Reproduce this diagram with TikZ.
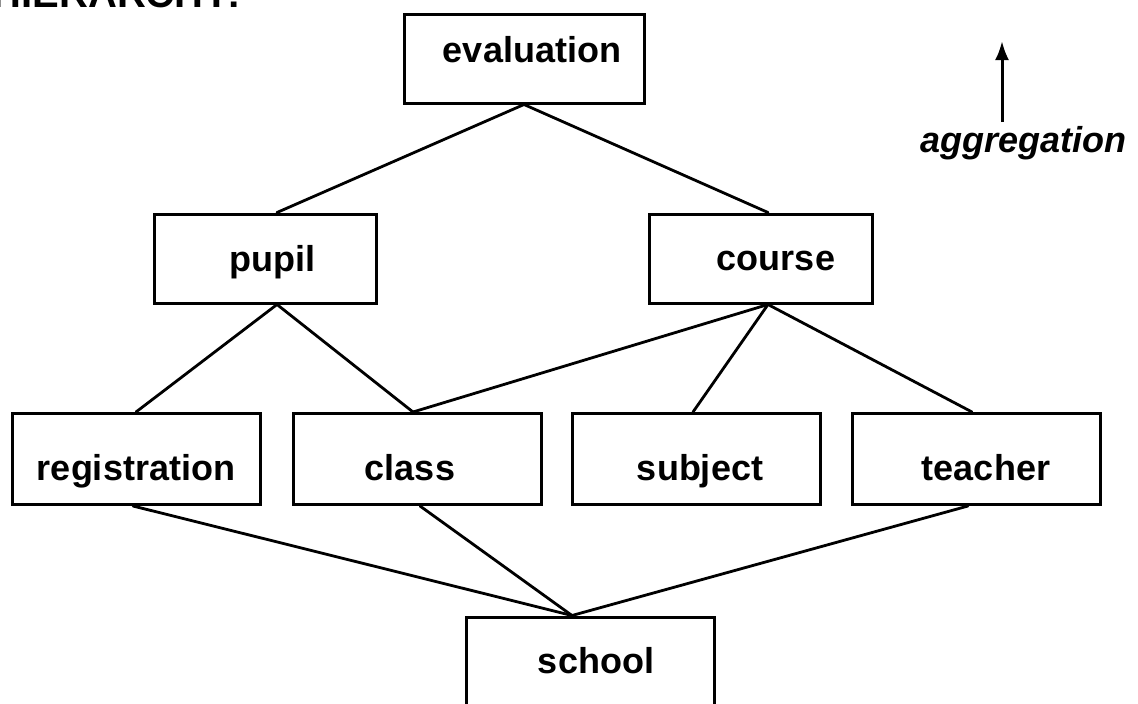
\documentclass[tikz,border=0pt]{standalone}
\usepackage{fontspec}
\setmainfont{Liberation Sans}
\usetikzlibrary{arrows.meta}
\begin{document}
\begin{tikzpicture}[x=1pt,y=-1pt,
  box/.style={draw,line width=3pt,rectangle,inner sep=0pt,minimum width=#1,minimum height=89pt},
  box/.default=248pt,
  lbl/.style={anchor=base,inner sep=0pt,font=\bfseries\fontsize{36}{40}\selectfont},
  link/.style={line width=2.8pt,line cap=round}]
\useasboundingbox (0,0) rectangle (1138,704);
\clip (0,0) rectangle (1138,704);

% heading, partly outside the page
\node[anchor=base east,inner sep=0pt,font=\bfseries\fontsize{40}{44}\selectfont] (head) at (241,8) {HIERARCHY:};

% boxes
\node[box=240pt,minimum height=89pt] (eval) at (524,58.5) {};
\node[box=222pt] (pupil) at (265,258.5) {};
\node[box=223pt] (course) at (760.5,258.5) {};
\node[box,minimum height=91pt] (reg) at (136,459) {};
\node[box,minimum height=91pt] (class) at (417,459) {};
\node[box,minimum height=91pt] (subj) at (696,459) {};
\node[box,minimum height=91pt] (teach) at (976.5,459) {};
\node[box,minimum height=120pt] (school) at (590,677) {};

% labels
\node[lbl] (eval-t) at (532,62) {evaluation};
\node[lbl] (pupil-t) at (272,271) {pupil};
\node[lbl] (course-t) at (776,270) {course};
\node[lbl] (reg-t) at (136,480) {registration};
\node[lbl] (class-t) at (410,480) {class};
\node[lbl] (subj-t) at (700,480) {subject};
\node[lbl] (teach-t) at (986,480) {teacher};
\node[lbl] (school-t) at (596,673) {school};

% aggregation direction
\node[anchor=base,inner sep=0pt,font=\bfseries\itshape\fontsize{36}{40}\selectfont] (agg) at (1023,152) {aggregation};
\coordinate (agg-top) at (1002,41);
\draw[line width=3pt,-{Latex[length=19pt,width=14pt]}] (1002,122) -- (agg-top);

% connectors
\draw[link] (eval.south) -- ([xshift=12pt]pupil.north);
\draw[link] (eval.south) -- ([xshift=7.5pt]course.north);
\draw[link] ([xshift=12pt]pupil.south) -- (reg.north);
\draw[link] ([xshift=12pt]pupil.south) -- ([xshift=-4pt]class.north);
\draw[link] ([xshift=7.5pt]course.south) -- ([xshift=-4pt]class.north);
\draw[link] ([xshift=7.5pt]course.south) -- ([xshift=-3pt]subj.north);
\draw[link] ([xshift=7.5pt]course.south) -- ([xshift=-4.5pt]teach.north);
\draw[link] ([xshift=-3pt]reg.south) -- ([xshift=-18pt]school.north);
\draw[link] ([xshift=3pt]class.south) -- ([xshift=-18pt]school.north);
\draw[link] ([xshift=-8.5pt]teach.south) -- ([xshift=-18pt]school.north);
\end{tikzpicture}
\end{document}
